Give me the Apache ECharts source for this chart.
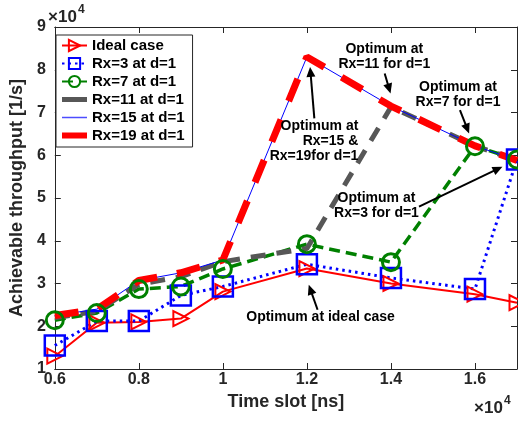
<!DOCTYPE html>
<html><head><meta charset="utf-8">
<script src="https://cdn.jsdelivr.net/npm/echarts@6/dist/echarts.min.js"></script>
<style>html,body{margin:0;padding:0;background:#fff}#c{width:518px;height:421px}</style>
</head><body><div id="c"></div>
<script>
// Time slot [ns]
const timeSlots = [6000, 7000, 8000, 9000, 10000, 12000, 14000, 16000, 17000];
// Achievable throughput [1/s]
const idealCase = [13000, 20800, 21000, 21800, 28100, 33500, 30000, 27500, 25500];
const rx3 = [15500, 21200, 21200, 27200, 29300, 34500, 31300, 28700, 59000];
const rx7 = [21400, 23100, 28700, 29300, 33400, 39200, 35000, 62100, 59000];
const rx11 = [22000, 23500, 29800, 31600, 35100, 38200, 71300, 62200, 58800];
const rx15 = [22500, 24000, 30700, 32500, 35500, 83000, 71500, 62200, 58800];
const rx19 = [22500, 24000, 30700, 32500, 35500, 83000, 71500, 62200, 58800];
const seriesNames = ['Ideal case', 'Rx=3 at d=1', 'Rx=7 at d=1', 'Rx=11 at d=1', 'Rx=15 at d=1', 'Rx=19 at d=1'];
const xTickLabels = ['0.6', '0.8', '1', '1.2', '1.4', '1.6'];
const yTickLabels = ['1', '2', '3', '4', '5', '6', '7', '8', '9'];

// annotations (data coordinates)
const annotations = [
  { text: 'Optimum at\nRx=11 for d=1', at: [13843, 83160], align: 'center', from: [13851, 79120], to: [13990, 74450] },
  { text: 'Optimum at\nRx=7 for d=1', at: [15596, 74287], align: 'center', from: [15642, 70551], to: [15860, 65111] },
  { text: 'Optimum at\nRx=15 &\nRx=19for d=1', at: [13224, 63197], align: 'right', from: [12177, 68613], to: [12075, 80661] },
  { text: 'Optimum at\nRx=3 for d=1', at: [13656, 48137], align: 'center', from: [14668, 47974], to: [16654, 57313] },
  { text: 'Optimum at ideal case', at: [12325, 22150], align: 'center', from: [12254, 23855], to: [12044, 29692] }
];

const FONT = '"Liberation Sans", Arial, Helvetica, sans-serif';
const AX = '#262626';
const pairs = arr => timeSlots.map((t, i) => [t, arr[i]]);
// line-only legend icon of a given thickness inside a 25x14 box
const barIcon = h => 'path://M0,0h0.01v0.01h-0.01z M0,' + (7 - h / 2) + 'h25v' + h + 'h-25z M24.99,13.99h0.01v0.01h-0.01z';

const chart = echarts.init(document.getElementById('c'), null, { renderer: 'canvas' });

const axisCommon = {
  axisLine: { show: true, onZero: false, lineStyle: { color: AX, width: 1 } },
  axisTick: { show: true, inside: true, length: 6, lineStyle: { color: AX } },
  splitLine: { show: false }
};

const option = {
  animation: false,
  backgroundColor: '#fff',
  grid: { left: 47, right: 1, top: 27, bottom: 52, containLabel: false },
  legend: {
    left: 56, top: 35, orient: 'vertical',
    backgroundColor: '#fff', borderColor: AX, borderWidth: 1,
    padding: [3, 8, 4, 5], itemGap: 3, itemWidth: 25, itemHeight: 14,
    textStyle: { fontFamily: FONT, fontWeight: 'bold', fontSize: 15, lineHeight: 14, color: '#000' },
    data: [
      { name: seriesNames[0] },
      { name: seriesNames[1] },
      { name: seriesNames[2] },
      { name: seriesNames[3], icon: barIcon(5), itemStyle: { color: '#575757' } },
      { name: seriesNames[4], icon: barIcon(1.5), itemStyle: { color: '#4d4dff' } },
      { name: seriesNames[5], icon: barIcon(6), itemStyle: { color: '#ff0000' } }
    ]
  },
  xAxis: [
    Object.assign({
      type: 'value', min: 6000, max: 17000, interval: 2000, position: 'bottom',
      name: 'Time slot [ns]', nameLocation: 'middle', nameGap: 20,
      nameTextStyle: { fontFamily: FONT, fontWeight: 'bold', fontSize: 18, color: AX },
      axisLabel: {
        show: true, margin: 3, showMaxLabel: false,
        fontFamily: FONT, fontWeight: 'bold', fontSize: 16, color: AX,
        formatter: v => { const i = Math.round((v - 6000) / 2000); return (v - 6000) % 2000 === 0 && xTickLabels[i] ? xTickLabels[i] : ''; }
      }
    }, axisCommon),
    Object.assign({
      type: 'value', min: 6000, max: 17000, interval: 2000, position: 'top',
      axisLabel: { show: false }
    }, axisCommon)
  ],
  yAxis: [
    Object.assign({
      type: 'value', min: 10000, max: 90000, interval: 10000, position: 'left',
      name: 'Achievable throughput [1/s]', nameLocation: 'middle', nameGap: 7,
      nameTextStyle: { fontFamily: FONT, fontWeight: 'bold', fontSize: 18, color: AX },
      axisLabel: {
        show: true, margin: 9,
        fontFamily: FONT, fontWeight: 'bold', fontSize: 16, color: AX,
        formatter: v => yTickLabels[Math.round(v / 10000) - 1] || ''
      }
    }, axisCommon),
    Object.assign({
      type: 'value', min: 10000, max: 90000, interval: 10000, position: 'right',
      axisLabel: { show: false }
    }, axisCommon)
  ],
  series: [
    {
      name: seriesNames[0], type: 'line', data: pairs(idealCase),
      symbol: 'triangle', symbolRotate: -90, symbolSize: [15, 15],
      lineStyle: { color: '#ff0000', width: 2, type: 'solid' },
      itemStyle: { color: 'rgba(0,0,0,0)', borderColor: '#ff0000', borderWidth: 2 }
    },
    {
      name: seriesNames[1], type: 'line', data: pairs(rx3),
      symbol: 'rect', symbolSize: 20,
      lineStyle: { color: '#0000ff', width: 3, type: [2.5, 4] },
      itemStyle: { color: 'rgba(0,0,0,0)', borderColor: '#0000ff', borderWidth: 2.5 }
    },
    {
      name: seriesNames[2], type: 'line', data: pairs(rx7),
      symbol: 'circle', symbolSize: 17,
      lineStyle: { color: '#008000', width: 3.5, type: [11, 6] },
      itemStyle: { color: 'rgba(0,0,0,0)', borderColor: '#008000', borderWidth: 3 }
    },
    {
      name: seriesNames[3], type: 'line', data: pairs(rx11), symbol: 'none',
      lineStyle: { color: '#575757', width: 5, type: [15, 11] },
      itemStyle: { color: '#575757' }
    },
    {
      name: seriesNames[4], type: 'line', data: pairs(rx15), symbol: 'none',
      lineStyle: { color: '#0000ff', width: 1, type: 'solid' },
      itemStyle: { color: '#0000ff' }
    },
    {
      name: seriesNames[5], type: 'line', data: pairs(rx19), symbol: 'none',
      lineStyle: { color: '#ff0000', width: 7, type: [24, 20] },
      itemStyle: { color: '#ff0000' }
    }
  ]
};
chart.setOption(option);

// annotations and exponent labels
const graphics = [];
annotations.forEach(a => {
  const p = chart.convertToPixel({ xAxisIndex: 0, yAxisIndex: 0 }, a.at);
  graphics.push({
    type: 'text', x: p[0], y: p[1], z: 100,
    style: { text: a.text, font: 'bold 14px ' + FONT, fill: '#000', align: a.align, verticalAlign: 'middle', lineHeight: 15 }
  });
  const f = chart.convertToPixel({ xAxisIndex: 0, yAxisIndex: 0 }, a.from);
  const t = chart.convertToPixel({ xAxisIndex: 0, yAxisIndex: 0 }, a.to);
  const dx = t[0] - f[0], dy = t[1] - f[1];
  const L = Math.sqrt(dx * dx + dy * dy), ux = dx / L, uy = dy / L;
  const hl = 10, hw = 4.5;
  const bx = t[0] - ux * hl, by = t[1] - uy * hl;
  graphics.push({
    type: 'line', z: 100,
    shape: { x1: f[0], y1: f[1], x2: bx + ux * 2, y2: by + uy * 2 },
    style: { stroke: '#000', lineWidth: 2 }
  });
  graphics.push({
    type: 'polygon', z: 100,
    shape: { points: [[t[0], t[1]], [bx - uy * hw, by + ux * hw], [bx + uy * hw, by - ux * hw]] },
    style: { fill: '#000' }
  });
});
// ×10^4 labels
graphics.push({ type: 'text', x: 48, y: 17, z: 100, style: { text: '×10', font: 'bold 17px ' + FONT, fill: AX, verticalAlign: 'middle' } });
graphics.push({ type: 'text', x: 78, y: 10, z: 100, style: { text: '4', font: 'bold 12px ' + FONT, fill: AX, verticalAlign: 'middle' } });
graphics.push({ type: 'text', x: 474, y: 408, z: 100, style: { text: '×10', font: 'bold 17px ' + FONT, fill: AX, verticalAlign: 'middle' } });
graphics.push({ type: 'text', x: 504, y: 401, z: 100, style: { text: '4', font: 'bold 12px ' + FONT, fill: AX, verticalAlign: 'middle' } });
chart.setOption({ graphic: graphics });
</script>
</body></html>
